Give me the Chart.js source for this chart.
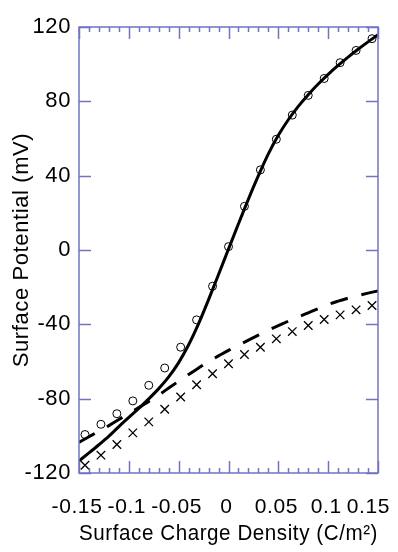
<!DOCTYPE html>
<html>
<head>
<meta charset="utf-8">
<script src="https://cdn.jsdelivr.net/npm/chart.js@4.4.1/dist/chart.umd.min.js"></script>
<style>
  body { margin: 0; background: #fff; }
  #wrap { width: 398px; height: 552px; }
</style>
</head>
<body>
<div id="wrap"><canvas id="potentialChart" width="398" height="552"></canvas></div>
<script>
// measured points (open circles) and crosses
const markerX = [-0.144, -0.128, -0.112, -0.096, -0.08, -0.064, -0.048, -0.032, -0.016, 0,
                 0.016, 0.032, 0.048, 0.064, 0.08, 0.096, 0.112, 0.128, 0.144];
const circleY = [-99.3, -93.8, -88.1, -81.2, -72.8, -63.5, -52.3, -37.6, -19.5, 1.8,
                 23.5, 43.1, 59.6, 72.6, 83.2, 92.3, 100.8, 107.4, 113.7];
const crossY = [-115.8, -110.4, -104.7, -98.4, -92.5, -85.7, -79.1, -72.5, -66.6, -61.2,
                -56.2, -52.3, -47.8, -43.9, -40.6, -37.4, -34.9, -32.2, -29.9];

// model curves
const curveX = [-0.15, -0.14, -0.13, -0.12, -0.11, -0.10, -0.09, -0.08, -0.07, -0.06, -0.05,
                -0.04, -0.03, -0.02, -0.01, 0, 0.01, 0.02, 0.03, 0.04, 0.05,
                0.06, 0.07, 0.08, 0.09, 0.10, 0.11, 0.12, 0.13, 0.14, 0.15];
const solidY = [-113.5, -109.2, -104.8, -100.2, -95.0, -90.1, -85.2, -80.1, -74.6, -68.3, -60.6,
                -51, -39.6, -26.7, -13.2, 0.5, 14.1, 27.4, 40, 51.7, 61.7,
                70.1, 77.3, 83.6, 89.3, 94.5, 99.3, 103.8, 108, 112, 115.8];
const dashedY = [-103.5, -100.5, -97.5, -94.5, -91.2, -88, -84.8, -81.5, -78, -74.3, -70.6,
                 -67, -63.5, -60, -57, -54, -51.2, -48.5, -45.8, -43.1, -40.7,
                 -38.3, -36, -33.8, -31.6, -29.3, -27.5, -25.9, -24.5, -23.2, -22];

const xTickValues = [-0.15, -0.1, -0.05, 0, 0.05, 0.1, 0.15];
const xTickLabels = ['-0.15', '-0.1', '-0.05', '0', '0.05', '0.1', '0.15'];
const yTickLabels = ['-120', '-80', '-40', '0', '40', '80', '120'];

const frameColor = '#7373c6';
const fontFamily = "'Liberation Sans', Arial, Helvetica, sans-serif";

function pts(xs, ys) {
    return xs.map(function (x, i) { return { x: x, y: ys[i] }; });
}

// slightly looser text, like the original figure
const spacingPlugin = {
    id: 'spacing',
    beforeDraw: function (chart) {
        chart.ctx.letterSpacing = '0.6px';
    }
};

// frame with inward ticks, like the original plot
const framePlugin = {
    id: 'frame',
    afterDatasetsDraw: function (chart) {
        const ctx = chart.ctx;
        const a = chart.chartArea;
        const xs = chart.scales.x, ys = chart.scales.y;
        ctx.save();
        ctx.strokeStyle = frameColor;
        ctx.lineWidth = 1.5;
        ctx.strokeRect(a.left, a.top, a.right - a.left, a.bottom - a.top);
        ctx.beginPath();
        for (let i = -15; i <= 15; i++) {
            const px = Math.round(xs.getPixelForValue(i / 100)) + 0.5;
            const len = (i % 5 === 0) ? 12 : 5;
            ctx.moveTo(px, a.bottom); ctx.lineTo(px, a.bottom - len);
            ctx.moveTo(px, a.top); ctx.lineTo(px, a.top + len);
        }
        ys.ticks.forEach(function (t) {
            const py = Math.round(ys.getPixelForValue(t.value)) + 0.5;
            ctx.moveTo(a.left, py); ctx.lineTo(a.left + 12, py);
            ctx.moveTo(a.right, py); ctx.lineTo(a.right - 12, py);
        });
        ctx.stroke();

        // x tick labels, last one kept inside the picture
        ctx.fillStyle = '#000';
        ctx.font = '21px ' + fontFamily;
        ctx.textAlign = 'center';
        ctx.textBaseline = 'middle';
        xTickValues.forEach(function (v, i) {
            const w = ctx.measureText(xTickLabels[i]).width;
            let px = xs.getPixelForValue(v) - 2;
            px = Math.min(px, chart.width - 8 - w / 2);
            ctx.fillText(xTickLabels[i], px, a.bottom + 34);
        });
        ctx.restore();
    }
};

new Chart(document.getElementById('potentialChart').getContext('2d'), {
    type: 'scatter',
    data: {
        datasets: [
            {
                label: 'model',
                data: pts(curveX, solidY),
                showLine: true,
                borderColor: '#000',
                borderWidth: 3,
                pointRadius: 0,
                cubicInterpolationMode: 'monotone'
            },
            {
                label: 'model 2',
                data: pts(curveX, dashedY),
                showLine: true,
                borderColor: '#000',
                borderWidth: 3,
                borderDash: [18, 14],
                pointRadius: 0,
                cubicInterpolationMode: 'monotone'
            },
            {
                label: 'circles',
                data: pts(markerX, circleY),
                pointStyle: 'circle',
                pointRadius: 4,
                borderColor: '#000',
                borderWidth: 1,
                backgroundColor: 'rgba(0,0,0,0)'
            },
            {
                label: 'crosses',
                data: pts(markerX, crossY),
                pointStyle: 'crossRot',
                pointRadius: 6,
                borderColor: '#000',
                borderWidth: 1.3,
                backgroundColor: 'rgba(0,0,0,0)'
            }
        ]
    },
    options: {
        responsive: false,
        animation: false,
        layout: { padding: { top: 27, right: 20, left: 0, bottom: 0 } },
        plugins: {
            legend: { display: false },
            tooltip: { enabled: false }
        },
        scales: {
            x: {
                type: 'linear',
                min: -0.15,
                max: 0.15,
                afterFit: function (s) { s.height = 79; },
                grid: { display: false, drawTicks: false },
                border: { display: false },
                ticks: { display: false, stepSize: 0.05 },
                title: {
                    display: true,
                    text: 'Surface Charge Density (C/m\u00B2)',
                    color: '#000',
                    font: { family: fontFamily, size: 22 },
                    padding: { top: 0, bottom: 5 }
                }
            },
            y: {
                type: 'linear',
                min: -120,
                max: 120,
                afterFit: function (s) { s.width = 79; },
                grid: { display: false, drawTicks: false },
                border: { display: false },
                ticks: {
                    stepSize: 40,
                    padding: 8,
                    color: '#000',
                    font: { family: fontFamily, size: 22 },
                    callback: function (v, i) { return yTickLabels[i]; }
                },
                title: {
                    display: true,
                    text: 'Surface Potential (mV)',
                    color: '#000',
                    font: { family: fontFamily, size: 22 },
                    padding: { top: 9, bottom: 0 }
                }
            }
        }
    },
    plugins: [spacingPlugin, framePlugin]
});
</script>
</body>
</html>
